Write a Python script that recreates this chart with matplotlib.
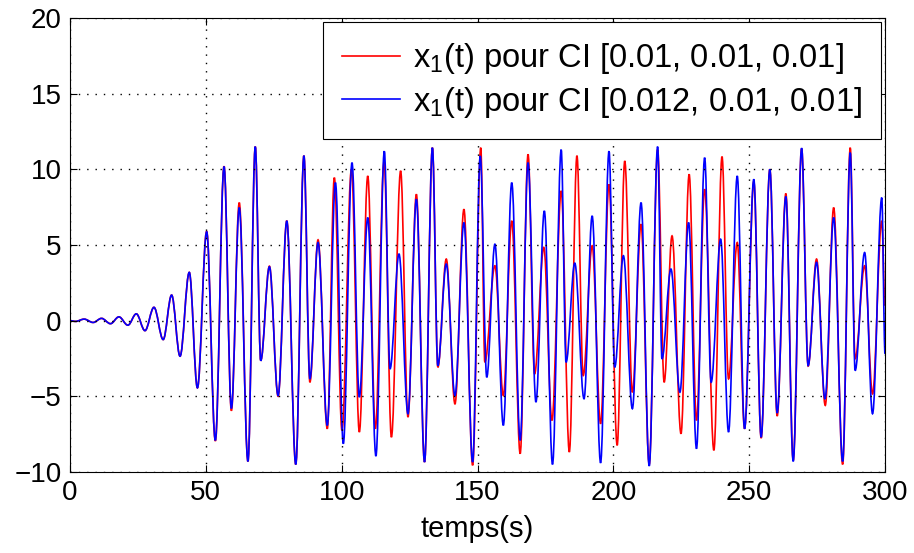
import matplotlib
matplotlib.use("Agg")
import matplotlib.pyplot as plt
from matplotlib.path import Path
from matplotlib.patches import PathPatch
from matplotlib.lines import Line2D

# extrema (time, value); both runs share the start
t_start = [0, 2.0, 5.2, 8.5, 11.6, 14.9, 18.0, 21.3, 24.4, 27.6, 30.9, 34.3, 37.4, 40.5, 43.9, 46.9]
x_start = [0, -0.05, 0.1, -0.12, 0.15, -0.2, 0.25, -0.3, 0.45, -0.66, 0.88, -1.25, 1.69, -2.35, 3.19, -4.44]

t_red = [50.3, 53.5, 56.7, 59.4, 62.3, 65.5, 68.2, 70.2, 73.4, 76.6, 79.8, 83.1, 86.1, 88.3, 91.3,
         94.7, 97.3, 100.1, 103.6, 106.5, 109.6, 112.4, 115.6, 118.3, 121.7, 124.4, 127.5, 130.5,
         133.4, 135.4, 138.5, 141.7, 145.0, 148.2, 151.2, 152.7, 156.4, 159.5, 162.6, 165.7, 168.6,
         171.0, 174.4, 177.4, 180.8, 183.8, 186.6, 188.9, 192.2, 195.3, 198.4, 201.4, 204.2, 207.0,
         210.2, 213.2, 216.3, 218.7, 221.6, 224.9, 227.9, 230.6, 233.6, 237.0, 240.0, 242.4, 245.6,
         248.3, 251.7, 254.4, 257.6, 260.3, 263.5, 266.2, 269.3, 271.7, 274.8, 278.0, 281.1, 284.4,
         287.2, 289.0, 292.5, 295.4, 298.8, 300.0]
x_red = [5.9, -7.95, 10.2, -5.95, 7.8, -9.3, 11.5, -2.64, 3.6, -5.0, 6.6, -9.5, 10.9, -4.07, 5.34,
         -7.14, 9.45, -7.25, 10.0, -7.36, 9.56, -7.14, 10.5, -7.7, 9.9, -6.37, 8.35, -9.34,
         11.43, -3.08, 4.07, -5.5, 7.36, -9.56, 11.43, -2.75, 3.63, -4.95, 6.59, -8.79, 10.99,
         -3.52, 4.84, -6.59, 8.57, -8.68, 10.9, -3.63, 4.95, -6.81, 9.0, -8.24, 10.55, -4.73,
         6.37, -9.5, 11.3, -4.07, 5.6, -7.47, 9.67, -6.59, 8.68, -8.57, 10.84, -3.85, 5.16,
         -7.14, 9.2, -7.76, 10.0, -6.3, 8.4, -9.23, 11.36, -3.0, 4.07, -5.6, 7.47, -9.5,
         11.43, -2.53, 3.63, -4.84, 6.59, 1.0]

t_blue = [50.3, 53.5, 56.7, 59.4, 62.3, 65.5, 68.2, 70.2, 73.4, 76.6, 79.8, 83.1, 86.1, 88.3, 91.3,
          94.7, 97.7, 100.6, 103.8, 106.5, 109.6, 112.6, 115.7, 117.8, 121.1, 124.4, 127.5, 130.5,
          133.4, 135.4, 138.5, 141.7, 145.0, 148.2, 151.0, 153.4, 156.4, 159.5, 162.6, 165.7, 168.6,
          171.5, 174.6, 177.6, 180.8, 182.6, 185.8, 189.2, 192.2, 195.3, 198.4, 200.5, 203.7, 207.0,
          210.2, 213.2, 216.3, 217.9, 221.2, 224.5, 227.7, 230.6, 233.6, 236.0, 239.5, 242.4, 245.6,
          248.3, 251.7, 254.4, 257.6, 260.3, 263.5, 266.2, 269.3, 271.7, 274.8, 277.9, 281.1, 284.4,
          287.2, 289.0, 292.5, 295.4, 298.8, 300.0]
x_blue = [5.87, -7.91, 10.18, -5.8, 7.47, -9.3, 11.5, -2.64, 3.56, -4.95, 6.59, -9.5, 10.9, -3.85, 5.16,
          -6.92, 9.12, -8.13, 10.44, -5.05, 6.81, -8.95, 11.2, -3.19, 4.4, -6.15, 8.02, -9.34,
          11.43, -2.97, 3.74, -4.95, 6.48, -9.34, 10.88, -3.74, 5.05, -6.92, 9.12, -7.91, 10.44,
          -5.38, 7.25, -9.5, 11.3, -2.75, 3.8, -5.16, 6.92, -9.4, 11.2, -3.08, 4.29, -5.82,
          7.8, -9.6, 11.5, -2.53, 3.41, -4.73, 6.48, -8.46, 10.77, -4.07, 5.38, -7.36, 9.56,
          -7.14, 9.34, -7.7, 10.0, -6.1, 8.2, -9.3, 11.4, -2.97, 3.85, -5.16, 6.81, -9.3,
          11.1, -3.3, 4.5, -6.15, 8.13, -2.2]

labels = ["x$_1$(t) pour CI [0.01, 0.01, 0.01]", "x$_1$(t) pour CI [0.012, 0.01, 0.01]"]


def smooth_path(ts, xs, k=0.36):
    # cubic bezier through the extrema, flat tangent at each peak/trough
    verts = [(ts[0], xs[0])]
    codes = [Path.MOVETO]
    for i in range(1, len(ts)):
        dt = ts[i] - ts[i - 1]
        verts += [(ts[i - 1] + k * dt, xs[i - 1]), (ts[i] - k * dt, xs[i]), (ts[i], xs[i])]
        codes += [Path.CURVE4] * 3
    return Path(verts, codes)


plt.rcParams["font.family"] = ["Liberation Sans", "DejaVu Sans"]
plt.rcParams["mathtext.fontset"] = "custom"
plt.rcParams["mathtext.rm"] = "Liberation Sans"
fig = plt.figure(figsize=(9.14, 5.53), dpi=100)
ax = fig.add_axes([0.0766, 0.1465, 0.8917, 0.821])

ax.add_patch(PathPatch(smooth_path(t_start + t_red, x_start + x_red), fill=False,
                       edgecolor="red", linewidth=1.2))
ax.add_patch(PathPatch(smooth_path(t_start + t_blue, x_start + x_blue), fill=False,
                       edgecolor="blue", linewidth=1.2))

ax.set_xlim(0, 300)
ax.set_ylim(-10, 20)
ax.set_xticks(range(0, 301, 50))
ax.set_yticks(range(-10, 21, 5))
ax.tick_params(direction="in", labelsize=20, length=5, top=True, right=True, pad=6)
ax.grid(True, linestyle=(0, (1, 5)), color="black", linewidth=1.0)
ax.set_xlabel("temps(s)", fontsize=21, labelpad=6)

handles = [Line2D([], [], color="red", linewidth=1.2), Line2D([], [], color="blue", linewidth=1.2)]
leg = ax.legend(handles, labels, loc="upper right", fontsize=23.5, fancybox=False,
                edgecolor="black", framealpha=1, borderaxespad=0.12, borderpad=0.6,
                labelspacing=0.25, handlelength=1.75, handletextpad=0.4)
leg.get_frame().set_linewidth(0.8)

fig.savefig("out.png", dpi=100)
